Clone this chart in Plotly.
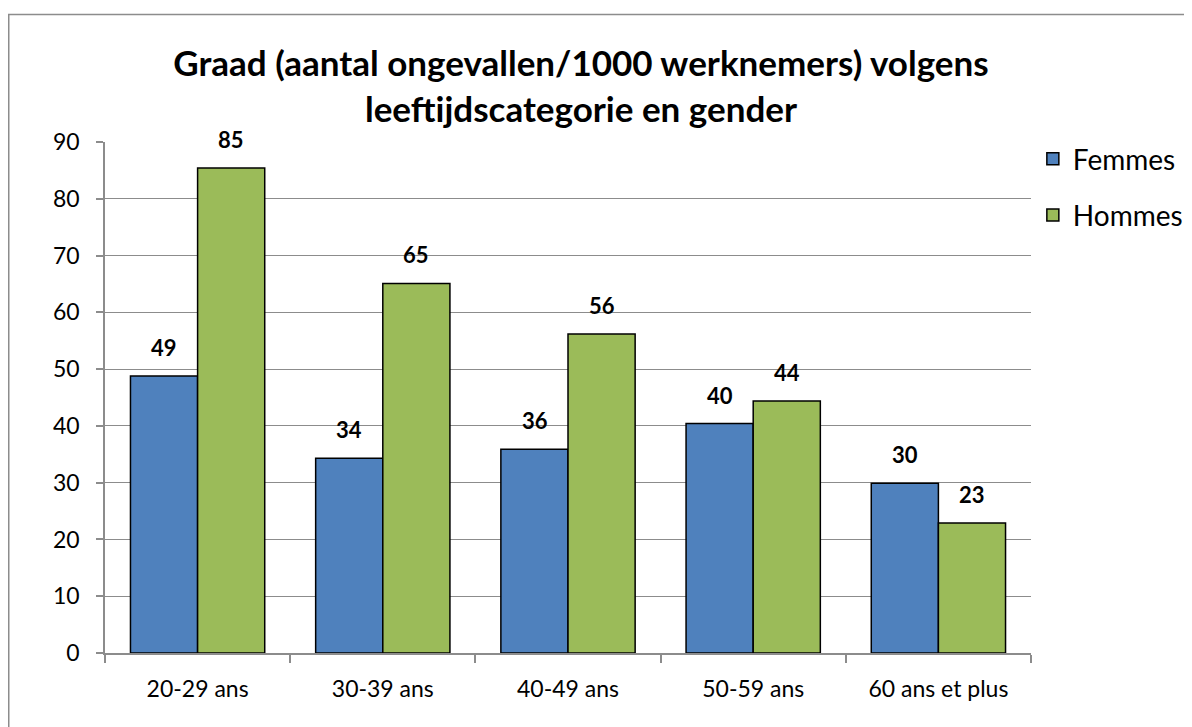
import plotly.graph_objects as go

categories = ["20-29 ans", "30-39 ans", "40-49 ans", "50-59 ans", "60 ans et plus"]
femmes = [48.8, 34.3, 35.9, 40.4, 29.9]
hommes = [85.4, 65.1, 56.2, 44.4, 22.9]
femmes_labels = ["49", "34", "36", "40", "30"]
hommes_labels = ["85", "65", "56", "44", "23"]

FONT = "Lato"
W, H = 1184, 719
L, R, T, B = 97, 161, 134, 74
pw, ph = W - L - R, H - T - B

fig = go.Figure()
fig.add_trace(go.Bar(name="Femmes", x=categories, y=femmes, legendgroup="f",
                     marker=dict(color="#4F81BD", line=dict(color="black", width=1.5))))
fig.add_trace(go.Bar(name="Hommes", x=categories, y=hommes, legendgroup="h",
                     marker=dict(color="#9BBB59", line=dict(color="black", width=1.5))))

ann = []
for c, v, t in zip(categories, femmes, femmes_labels):
    ann.append(dict(x=c, y=v, text="<b>%s</b>" % t, showarrow=False, xshift=-33.5, yshift=13,
                    yanchor="bottom", font=dict(size=22, color="black", family=FONT)))
for c, v, t in zip(categories, hommes, hommes_labels):
    ann.append(dict(x=c, y=v, text="<b>%s</b>" % t, showarrow=False, xshift=33.5, yshift=13,
                    yanchor="bottom", font=dict(size=22, color="black", family=FONT)))

fig.update_layout(
    width=W, height=H,
    margin=dict(l=L, r=R, t=T, b=B, autoexpand=False),
    paper_bgcolor="white", plot_bgcolor="white",
    font=dict(family=FONT, color="black"),
    barmode="group", bargap=0.275, bargroupgap=0,
    title=dict(text="<b>Graad (aantal ongevallen/1000 werknemers) volgens<br>leeftijdscategorie en gender</b>",
               x=573 / W, xanchor="center", y=1 - 68 / H, yanchor="top",
               font=dict(size=35, family=FONT, color="black")),
    legend=dict(x=1.002, xanchor="left", y=1.0157, yanchor="top",
                font=dict(size=28, family=FONT, color="black"),
                tracegroupgap=17, itemwidth=30, bgcolor="rgba(0,0,0,0)"),
    annotations=ann,
    shapes=[dict(type="rect", xref="paper", yref="paper",
                 x0=(0.75 - L) / pw, x1=(1250 - L) / pw,
                 y0=(H - B - 800) / ph, y1=(H - B - 6.5) / ph,
                 line=dict(color="#8c8c8c", width=1.5), layer="below")],
    xaxis=dict(showline=True, linecolor="#8c8c8c", linewidth=1.5,
               ticks="outside", tickson="boundaries", ticklen=8, tickcolor="#8c8c8c", tickwidth=1.5,
               tickfont=dict(size=23, family=FONT, color="black"), showgrid=False,
               ticklabelstandoff=15),
    yaxis=dict(range=[0, 90], dtick=10, showline=True, linecolor="#8c8c8c", linewidth=1.5,
               ticks="outside", ticklen=7, tickcolor="#8c8c8c", tickwidth=1.5,
               showgrid=True, gridcolor="#8c8c8c", gridwidth=1.2, zeroline=False,
               tickfont=dict(size=23, family=FONT, color="black"), ticklabelstandoff=12),
)

fig.write_html("out.html")
